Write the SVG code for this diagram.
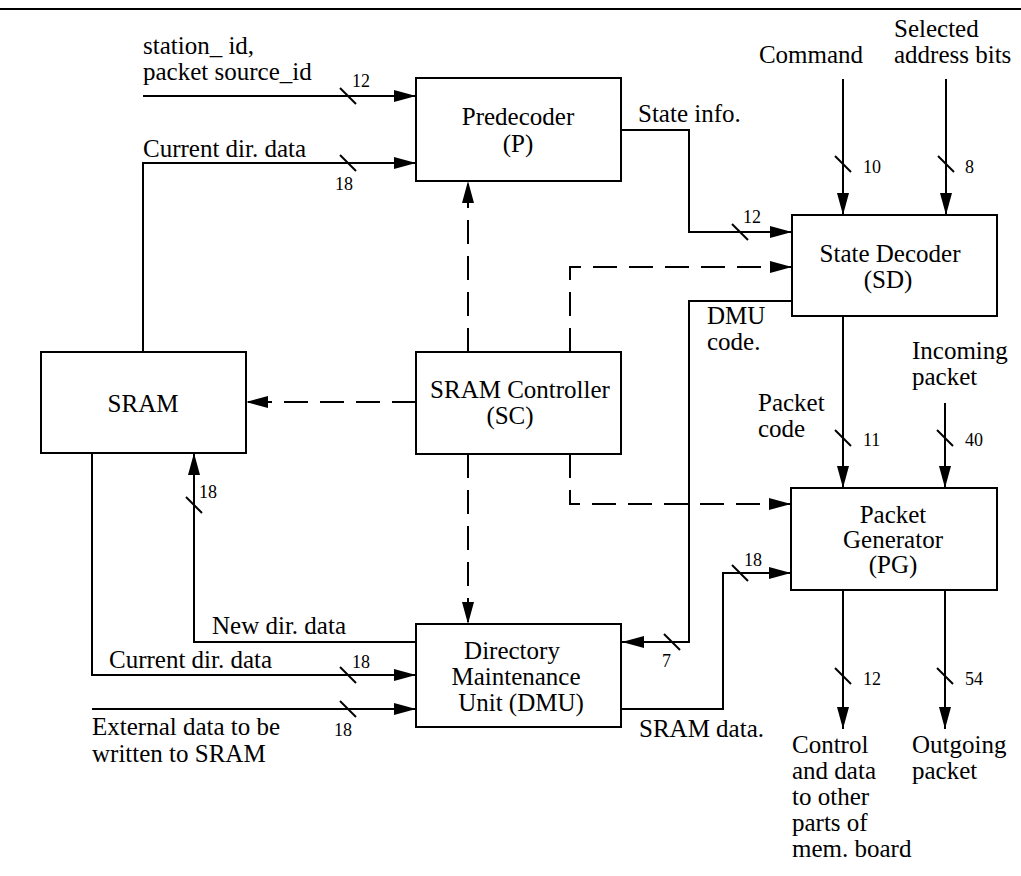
<svg xmlns="http://www.w3.org/2000/svg" width="1021" height="876" viewBox="0 0 1021 876">
<style>
.box{fill:#fff;stroke:#000;stroke-width:2}
.w{fill:none;stroke:#000;stroke-width:2}
.d{fill:none;stroke:#000;stroke-width:2;stroke-dasharray:24 12}
.t{font-family:'Liberation Serif','DejaVu Serif',serif;font-size:25px;fill:#000}
.n{font-family:'Liberation Serif','DejaVu Serif',serif;font-size:18px;fill:#000}
.c{text-anchor:middle}
</style>
<defs>
<marker id="ah" viewBox="0 0 22 12" refX="22" refY="6" markerWidth="22" markerHeight="12" markerUnits="userSpaceOnUse" orient="auto">
<path d="M0,0 L22,6 L0,12 z" fill="#000"/>
</marker>
</defs>
<rect width="1021" height="876" fill="#fff"/>
<line x1="0" y1="9" x2="1021" y2="9" stroke="#000" stroke-width="2"/>

<g id="connectors" font-family="Liberation Serif, DejaVu Serif, serif">
<path class="w" d="M143,96 H416" marker-end="url(#ah)"/>
<path class="w" d="M143,352 V163 H416" marker-end="url(#ah)"/>
<path class="w" d="M621,130 H689 V232 H792" marker-end="url(#ah)"/>
<path class="w" d="M843,79 V215" marker-end="url(#ah)"/>
<path class="w" d="M946,79 V215" marker-end="url(#ah)"/>
<path class="w" d="M843,316 V488" marker-end="url(#ah)"/>
<path class="w" d="M945,403 V488" marker-end="url(#ah)"/>
<path class="w" d="M792,301 H689 V642 H622" marker-end="url(#ah)"/>
<path class="w" d="M622,709 H723 V573 H791" marker-end="url(#ah)"/>
<path class="w" d="M843,590 V729" marker-end="url(#ah)"/>
<path class="w" d="M945,590 V729" marker-end="url(#ah)"/>
<path class="w" d="M416,642 H194 V453" marker-end="url(#ah)"/>
<path class="w" d="M92,453 V675 H416" marker-end="url(#ah)"/>
<path class="w" d="M92,709 H416" marker-end="url(#ah)"/>
<path class="d" d="M468,352 V181" marker-end="url(#ah)"/>
<path class="d" d="M570,352 V267 H792" marker-end="url(#ah)"/>
<path class="d" d="M416,402 H246" marker-end="url(#ah)"/>
<path class="d" d="M468,454 V624" marker-end="url(#ah)"/>
<path class="d" d="M570,454 V504 H791" marker-end="url(#ah)"/>
<g class="w">
<line x1="340" y1="88" x2="356" y2="104"/>
<line x1="340" y1="155" x2="356" y2="171"/>
<line x1="732" y1="224" x2="748" y2="240"/>
<line x1="835" y1="156" x2="851" y2="172"/>
<line x1="938" y1="156" x2="954" y2="172"/>
<line x1="835" y1="430" x2="851" y2="446"/>
<line x1="937" y1="430" x2="953" y2="446"/>
<line x1="664" y1="634" x2="680" y2="650"/>
<line x1="732" y1="565" x2="748" y2="581"/>
<line x1="835" y1="668" x2="851" y2="684"/>
<line x1="937" y1="668" x2="953" y2="684"/>
<line x1="186" y1="497" x2="202" y2="513"/>
<line x1="340" y1="667" x2="356" y2="683"/>
<line x1="340" y1="701" x2="356" y2="717"/>
</g>
<text class="t" x="143" y="54">station_ id,</text>
<text class="t" x="143" y="80">packet source_id</text>
<text class="n" x="352" y="87">12</text>
<text class="t" x="143" y="157">Current dir. data</text>
<text class="n" x="335" y="190">18</text>
<text class="t" x="638" y="122">State info.</text>
<text class="n" x="743" y="223">12</text>
<text class="t c" x="811" y="63">Command</text>
<text class="t" x="894" y="37">Selected</text>
<text class="t" x="894" y="63">address bits</text>
<text class="n" x="863" y="173">10</text>
<text class="n" x="965" y="173">8</text>
<text class="t" x="707" y="324">DMU</text>
<text class="t" x="707" y="350">code.</text>
<text class="t" x="758" y="411">Packet</text>
<text class="t" x="758" y="437">code</text>
<text class="n" x="863" y="446">11</text>
<text class="t" x="912" y="359">Incoming</text>
<text class="t" x="912" y="385">packet</text>
<text class="n" x="965" y="446">40</text>
<text class="n" x="744" y="566">18</text>
<text class="n" x="662" y="667">7</text>
<text class="t" x="639" y="737">SRAM data.</text>
<text class="n" x="863" y="685">12</text>
<text class="n" x="965" y="685">54</text>
<text class="t" x="792" y="753">Control</text>
<text class="t" x="792" y="779">and data</text>
<text class="t" x="792" y="805">to other</text>
<text class="t" x="792" y="831">parts of</text>
<text class="t" x="792" y="857">mem. board</text>
<text class="t" x="912" y="753">Outgoing</text>
<text class="t" x="912" y="779">packet</text>
<text class="n" x="199" y="498">18</text>
<text class="t" x="212" y="634">New dir. data</text>
<text class="t" x="109" y="668">Current dir. data</text>
<text class="n" x="352" y="668">18</text>
<text class="t" x="92" y="735">External data to be</text>
<text class="t" x="92" y="762">written to SRAM</text>
<text class="n" x="334" y="736">18</text>
</g>

<g id="predecoder">
<rect class="box" x="416" y="78" width="205" height="103"/>
<text class="t c" x="518" y="125">Predecoder</text>
<text class="t c" x="518" y="152">(P)</text>
</g>
<g id="state-decoder">
<rect class="box" x="792" y="215" width="205" height="101"/>
<text class="t c" x="890" y="262">State Decoder</text>
<text class="t c" x="888" y="288">(SD)</text>
</g>
<g id="sram">
<rect class="box" x="41" y="352" width="205" height="101"/>
<text class="t c" x="143" y="412">SRAM</text>
</g>
<g id="sram-controller">
<rect class="box" x="416" y="352" width="205" height="102"/>
<text class="t c" x="520" y="398">SRAM Controller</text>
<text class="t c" x="510" y="424">(SC)</text>
</g>
<g id="packet-generator">
<rect class="box" x="791" y="488" width="206" height="102"/>
<text class="t c" x="893" y="523">Packet</text>
<text class="t c" x="893" y="548">Generator</text>
<text class="t c" x="893" y="573">(PG)</text>
</g>
<g id="dmu">
<rect class="box" x="416" y="624" width="205" height="103"/>
<text class="t c" x="512" y="659">Directory</text>
<text class="t c" x="516" y="685">Maintenance</text>
<text class="t c" x="521" y="711">Unit (DMU)</text>
</g>
</svg>
